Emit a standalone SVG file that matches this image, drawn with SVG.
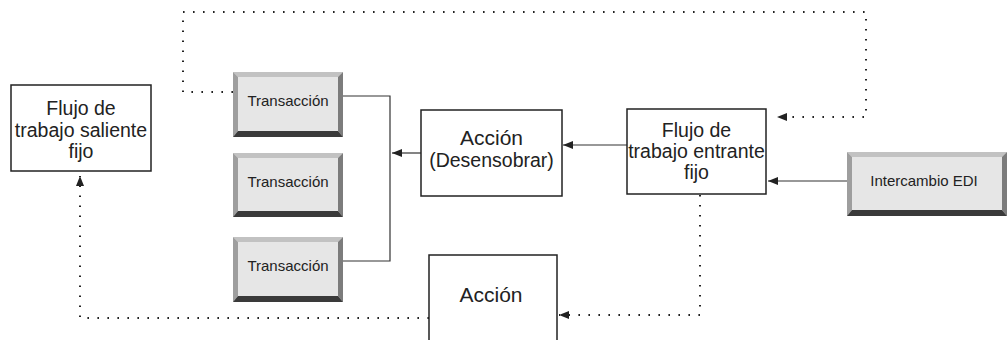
<svg xmlns="http://www.w3.org/2000/svg" width="1008" height="340" viewBox="0 0 1008 340">
<style>
.box{fill:#fff;stroke:#222;stroke-width:1.5}
.face{fill:#e6e6e6}
.bt{fill:#c2c2c2}
.bl{fill:#9e9e9e}
.br{fill:#7c7c7c}
.bb{fill:#3a3a3a}
.t{font-family:"Liberation Sans",Arial,sans-serif;font-size:19.5px;fill:#222;text-anchor:middle}
.ta{font-size:21px}
.ts{font-family:"Liberation Sans",Arial,sans-serif;font-size:15px;fill:#222;text-anchor:middle}
.solid{fill:none;stroke:#333;stroke-width:1.2}
.dot{fill:none;stroke:#222;stroke-width:2;stroke-dasharray:1.6 8.4}
</style>
<defs>
<marker id="ah" markerUnits="userSpaceOnUse" markerWidth="10" markerHeight="8" refX="10" refY="4" orient="auto">
<path d="M0,0 L10,4 L0,8 z" fill="#222"/>
</marker>
</defs>
<g id="connectors">
<polyline class="solid" points="343,96 390,96 390,261 343,261"/>
<line class="solid" x1="421" y1="153" x2="392" y2="153" marker-end="url(#ah)"/>
<line class="solid" x1="627" y1="145" x2="563" y2="145" marker-end="url(#ah)"/>
<line class="solid" x1="847" y1="181" x2="768" y2="181" marker-end="url(#ah)"/>
<polyline class="dot" points="233,92 183,92 183,12 866,12 866,117 777,117" marker-end="url(#ah)"/>
<polyline class="dot" points="700,195 700,315 559,315" marker-end="url(#ah)"/>
<polyline class="dot" points="429,318 80,318 80,176" marker-end="url(#ah)"/>
</g>
<g id="flujo-saliente">
<rect class="box" x="11" y="85" width="140" height="86"/>
<text class="t" x="81" y="115">Flujo de</text>
<text class="t" x="81" y="137">trabajo saliente</text>
<text class="t" x="81" y="158">fijo</text>
</g>
<g id="transaccion-1">
<rect class="face" x="233" y="72" width="110" height="65"/>
<polygon class="bt" points="233,72 343,72 338,77 238,77"/>
<polygon class="bl" points="233,72 238,77 238,131 233,137"/>
<polygon class="br" points="343,72 343,137 338,131 338,77"/>
<polygon class="bb" points="233,137 238,131 338,131 343,137"/>
<text class="ts" x="288" y="106">Transacción</text>
</g>
<g id="transaccion-2">
<rect class="face" x="233" y="153" width="110" height="64"/>
<polygon class="bt" points="233,153 343,153 338,158 238,158"/>
<polygon class="bl" points="233,153 238,158 238,211 233,217"/>
<polygon class="br" points="343,153 343,217 338,211 338,158"/>
<polygon class="bb" points="233,217 238,211 338,211 343,217"/>
<text class="ts" x="288" y="187">Transacción</text>
</g>
<g id="transaccion-3">
<rect class="face" x="233" y="237" width="110" height="65"/>
<polygon class="bt" points="233,237 343,237 338,242 238,242"/>
<polygon class="bl" points="233,237 238,242 238,296 233,302"/>
<polygon class="br" points="343,237 343,302 338,296 338,242"/>
<polygon class="bb" points="233,302 238,296 338,296 343,302"/>
<text class="ts" x="288" y="271">Transacción</text>
</g>
<g id="accion-desensobrar">
<rect class="box" x="421" y="110" width="141" height="86"/>
<text class="t ta" x="491.5" y="145">Acción</text>
<text class="t" x="491.5" y="167">(Desensobrar)</text>
</g>
<g id="flujo-entrante">
<rect class="box" x="627" y="109" width="139" height="85"/>
<text class="t" x="696.5" y="137">Flujo de</text>
<text class="t" x="696.5" y="158">trabajo entrante</text>
<text class="t" x="696.5" y="179">fijo</text>
</g>
<g id="intercambio-edi">
<rect class="face" x="847" y="152" width="160" height="64"/>
<polygon class="bt" points="847,152 1007,152 1002,157 852,157"/>
<polygon class="bl" points="847,152 852,157 852,210 847,216"/>
<polygon class="br" points="1007,152 1007,216 1002,210 1002,157"/>
<polygon class="bb" points="847,216 852,210 1002,210 1007,216"/>
<text class="ts" x="924" y="186">Intercambio EDI</text>
</g>
<g id="accion">
<rect class="box" x="429" y="255" width="128" height="100"/>
<text class="t ta" x="491" y="302">Acción</text>
</g>
</svg>
